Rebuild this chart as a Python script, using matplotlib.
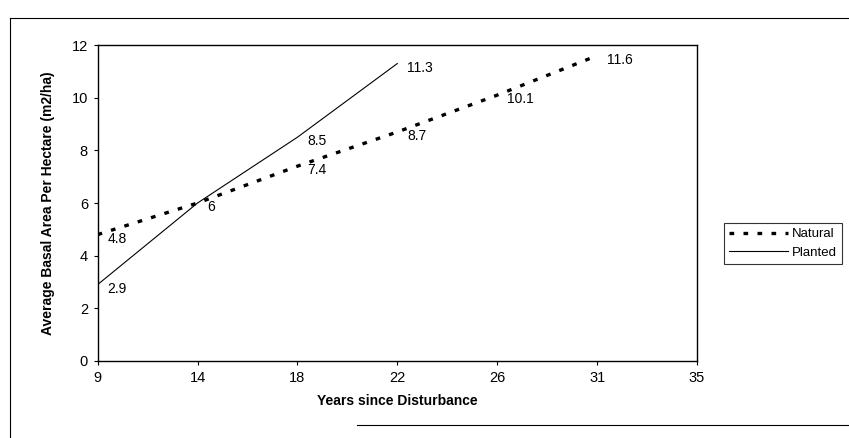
import matplotlib.pyplot as plt
from matplotlib.lines import Line2D

plt.rcParams['font.family'] = ['Liberation Sans', 'DejaVu Sans']

# categories on the x axis (evenly spaced, like an Excel category axis)
years = ['9', '14', '18', '22', '26', '31', '35']
natural = [4.8, 6, 7.4, 8.7, 10.1, 11.6]
planted = [2.9, 6, 8.5, 11.3]
natural_labels = ['4.8', '6', '7.4', '8.7', '10.1', '11.6']
planted_labels = ['2.9', '', '8.5', '11.3']

fig = plt.figure(figsize=(8.49, 4.38), dpi=100)
ax = fig.add_axes([0.115, 0.176, 0.706, 0.721])

x_nat = list(range(len(natural)))
x_pla = list(range(len(planted)))

ax.plot(x_nat, natural, color='black', linewidth=2.4, linestyle=(0, (1.4, 2.8)),
        label='Natural')
ax.plot(x_pla, planted, color='black', linewidth=0.8, label='Planted')

for x, y, t in zip(x_nat, natural, natural_labels):
    ax.annotate(t, (x, y), xytext=(7, -3), textcoords='offset points',
                ha='left', va='center', fontsize=10)
for x, y, t in zip(x_pla, planted, planted_labels):
    if t:
        ax.annotate(t, (x, y), xytext=(7, -3), textcoords='offset points',
                    ha='left', va='center', fontsize=10)

ax.set_xlim(0, len(years) - 1)
ax.set_ylim(0, 12)
ax.set_xticks(range(len(years)))
ax.set_xticklabels(years)
ax.set_yticks(range(0, 13, 2))
ax.tick_params(axis='both', direction='out', length=3, width=0.8,
               labelsize=10.5, pad=4)
for s in ax.spines.values():
    s.set_linewidth(1.0)

ax.set_xlabel('Years since Disturbance', fontsize=10, fontweight='bold',
              labelpad=7)
ax.set_ylabel('Average Basal Area Per Hectare (m2/ha)', fontsize=10,
              fontweight='bold', labelpad=12)

leg = fig.legend(loc='center left', bbox_to_anchor=(0.853, 0.444),
                 fontsize=9.5, frameon=True, fancybox=False, edgecolor='black',
                 handlelength=4.4, handletextpad=0.3, borderpad=0.4,
                 labelspacing=0.5, borderaxespad=0)
leg.get_frame().set_linewidth(0.8)

# outer frame lines of the scanned chart
fig.add_artist(Line2D([0.012, 1.0], [0.959, 0.959], color='black', lw=0.8))
fig.add_artist(Line2D([0.012, 0.012], [0.959, 0.0], color='black', lw=0.8))
fig.add_artist(Line2D([0.42, 1.0], [0.03, 0.03], color='black', lw=0.8))

fig.savefig('out.png', dpi=100)
